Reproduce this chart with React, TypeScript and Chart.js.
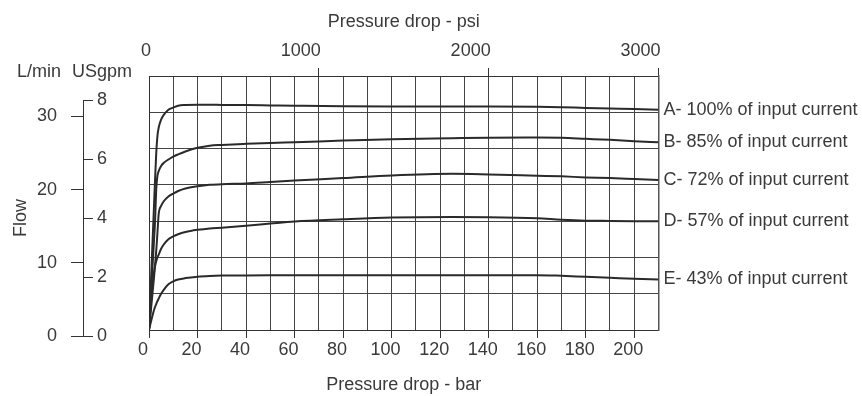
import React, { useEffect, useRef } from "react";
import { Chart, registerables } from "chart.js";

Chart.register(...registerables);

// ---- data ----
const pressureBar = [0, 1, 2, 2.5, 3, 3.5, 4, 5, 6, 8, 10, 12, 15, 20, 25, 30, 40, 50, 60, 80, 100, 125, 140, 160, 170, 180, 190, 200, 210];
const flowA = [0, 8.3, 16.6, 20.7, 24.5, 26.8, 27.9, 29.0, 29.6, 30.35, 30.65, 30.9, 31.0, 31.05, 31.05, 31.02, 31.0, 30.95, 30.9, 30.82, 30.8, 30.8, 30.8, 30.76, 30.7, 30.6, 30.52, 30.45, 30.35];
const flowB = [0, 6, 12, 15, 19.5, 21.3, 21.9, 22.6, 23.0, 23.5, 23.9, 24.2, 24.6, 25.1, 25.4, 25.5, 25.65, 25.78, 25.88, 26.1, 26.3, 26.43, 26.5, 26.52, 26.48, 26.34, 26.2, 26.0, 25.86];
const flowC = [0, 3.5, 7, 9, 11, 13.5, 16.0, 17.1, 17.7, 18.4, 18.8, 19.15, 19.5, 19.8, 20.0, 20.1, 20.2, 20.4, 20.6, 20.93, 21.3, 21.53, 21.44, 21.26, 21.17, 21.03, 20.94, 20.8, 20.66];
const flowD = [0, 4.6, 7.8, 8.8, 9.5, 10.0, 10.4, 11.2, 11.75, 12.5, 12.9, 13.2, 13.5, 13.8, 14.0, 14.1, 14.35, 14.66, 14.95, 15.25, 15.49, 15.57, 15.55, 15.4, 15.2, 15.07, 15.03, 15.0, 14.98];
const flowE = [0, 1.4, 2.7, 3.2, 3.6, 4.0, 4.35, 5.0, 5.5, 6.3, 6.7, 6.95, 7.15, 7.35, 7.45, 7.5, 7.52, 7.53, 7.54, 7.55, 7.55, 7.56, 7.56, 7.56, 7.47, 7.33, 7.2, 7.06, 6.97];
const curveFlows = [flowA, flowB, flowC, flowD, flowE];
const curveLabels = [
  "A- 100% of input current",
  "B- 85% of input current",
  "C- 72% of input current",
  "D- 57% of input current",
  "E- 43% of input current",
];

const barGrid = [0, 10, 20, 30, 40, 50, 60, 70, 80, 90, 100, 110, 120, 130, 140, 150, 160, 170, 180, 190, 200, 210];
const barTickLabels = [0, 20, 40, 60, 80, 100, 120, 140, 160, 180, 200];
const psiTicks = [0, 1000, 2000, 3000];
const flowGrid = [0, 5, 10, 15, 20, 25, 30, 35];
const lpmTicks = [0, 10, 20, 30];
const gpmTicks = [0, 2, 4, 6, 8];

// ---- styles ----
const FONT = { family: '"Liberation Sans", Arial, Helvetica, sans-serif', size: 18 };
const FONT_CSS = '18px "Liberation Sans", Arial, Helvetica, sans-serif';
const TEXT = "#3a3a3a";
const GRID = "#444444";
const BORDER = "#333333";
const LINE = "#2a2a2a";
const CLEAR = "rgba(0,0,0,0)";

const setTicks = (arr: number[]) => (scale: any) => {
  scale.ticks = arr.map((v) => ({ value: v }));
};
const plain = (v: any) => String(v);

export default function App() {
  const mainRef = useRef<HTMLCanvasElement | null>(null);
  const axisRef = useRef<HTMLCanvasElement | null>(null);

  useEffect(() => {
    document.body.style.margin = "0";
    const labelPlugin = {
      id: "curveLabels",
      afterDatasetsDraw(chart: any) {
        const { ctx, chartArea, scales } = chart;
        ctx.save();
        ctx.font = FONT_CSS;
        ctx.fillStyle = TEXT;
        ctx.textAlign = "left";
        ctx.textBaseline = "middle";
        chart.data.datasets.forEach((ds: any, i: number) => {
          const last = ds.data[ds.data.length - 1];
          const y = scales.y.getPixelForValue(last.y);
          ctx.fillText(curveLabels[i], chartArea.right + 5, y);
        });
        ctx.restore();
      },
    };

    const main = new Chart(mainRef.current as HTMLCanvasElement, {
      type: "line",
      data: {
        datasets: curveFlows.map((flows, i) => ({
          label: curveLabels[i],
          data: pressureBar.map((x, j) => ({ x, y: flows[j] })),
          borderColor: LINE,
          borderWidth: 2,
          pointRadius: 0,
          fill: false,
          cubicInterpolationMode: "monotone" as const,
        })),
      },
      options: {
        responsive: false,
        animation: false,
        layout: { padding: { left: 149, right: 203.5, top: 0, bottom: 0 } },
        plugins: { legend: { display: false }, tooltip: { enabled: false } },
        scales: {
          x: {
            type: "linear",
            position: "bottom",
            min: 0,
            max: 210,
            afterBuildTicks: setTicks(barGrid),
            ticks: {
              autoSkip: false,
              maxRotation: 0,
              labelOffset: -6,
              padding: 1,
              font: FONT,
              color: TEXT,
              callback: (v: any) => (barTickLabels.includes(Number(v)) ? String(v) : ""),
            },
            grid: {
              color: GRID,
              lineWidth: 1,
              drawTicks: true,
              tickLength: 8,
              tickColor: (c: any) => (c.tick && barTickLabels.includes(c.tick.value) ? BORDER : CLEAR),
            },
            border: { display: true, color: BORDER, width: 1 },
            title: { display: true, text: "Pressure drop - bar", font: FONT, color: TEXT, padding: { top: 0, bottom: 0 } },
            afterFit: (s: any) => {
              s.height = 66;
            },
          },
          x2: {
            type: "linear",
            position: "top",
            min: 0,
            max: 3000,
            afterBuildTicks: setTicks(psiTicks),
            ticks: { autoSkip: false, maxRotation: 0, align: "end", labelOffset: 2, padding: 6, font: FONT, color: TEXT, callback: plain },
            grid: {
              drawOnChartArea: false,
              drawTicks: true,
              tickLength: 8,
              tickColor: (c: any) => (c.tick && c.tick.value === 0 ? CLEAR : BORDER),
            },
            border: { display: true, color: BORDER, width: 1 },
            title: { display: true, text: "Pressure drop - psi", font: FONT, color: TEXT, padding: { top: 11, bottom: 0 } },
            afterFit: (s: any) => {
              s.height = 76;
            },
          },
          y: {
            type: "linear",
            position: "left",
            min: 0,
            max: 35,
            afterBuildTicks: setTicks(flowGrid),
            ticks: { display: false },
            grid: { color: GRID, lineWidth: 1, drawTicks: false },
            border: { display: true, color: BORDER, width: 1 },
          },
          y2: {
            type: "linear",
            position: "right",
            min: 0,
            max: 35,
            ticks: { display: false },
            grid: { display: false, drawTicks: false },
            border: { display: true, color: "#555555", width: 1.5 },
          },
        },
      } as any,
      plugins: [labelPlugin],
    });

    const headerPlugin = {
      id: "unitHeaders",
      afterDraw(chart: any) {
        const { ctx, chartArea } = chart;
        ctx.save();
        ctx.font = FONT_CSS;
        ctx.fillStyle = TEXT;
        ctx.textAlign = "center";
        ctx.textBaseline = "middle";
        ctx.fillText("L/min", chartArea.left - 44, chartArea.top - 28);
        ctx.fillText("USgpm", chartArea.left + 19, chartArea.top - 28);
        ctx.restore();
      },
    };

    const axes = new Chart(axisRef.current as HTMLCanvasElement, {
      type: "line",
      data: { datasets: [] },
      options: {
        responsive: false,
        animation: false,
        layout: { padding: { left: 0, right: 0, top: 100, bottom: 60 } },
        plugins: { legend: { display: false }, tooltip: { enabled: false } },
        scales: {
          x: { type: "linear", display: false, min: 0, max: 1 },
          yL: {
            type: "linear",
            position: "left",
            min: 0,
            max: 32.23,
            afterBuildTicks: setTicks(lpmTicks),
            ticks: { padding: 14, font: FONT, color: TEXT, callback: plain },
            grid: { drawOnChartArea: false, drawTicks: true, tickLength: 12, color: BORDER },
            border: { display: true, color: BORDER, width: 1 },
            title: { display: true, text: "Flow", font: FONT, color: TEXT, padding: { top: 10, bottom: 0 } },
            afterFit: (s: any) => {
              s.width = 83;
            },
          },
          yG: {
            type: "linear",
            position: "right",
            min: 0,
            max: 8,
            afterBuildTicks: setTicks(gpmTicks),
            ticks: { padding: 4, font: FONT, color: TEXT, callback: plain },
            grid: { drawOnChartArea: false, drawTicks: true, tickLength: 10, color: BORDER },
            border: { display: true, color: BORDER, width: 1 },
            afterFit: (s: any) => {
              s.width = 65;
            },
          },
        },
      } as any,
      plugins: [headerPlugin],
    });

    return () => {
      main.destroy();
      axes.destroy();
    };
  }, []);

  return (
    <div style={{ position: "relative", width: 862, height: 396, background: "#ffffff" }}>
      <canvas ref={mainRef} width={862} height={396} style={{ position: "absolute", left: 0, top: 0 }} />
      <canvas ref={axisRef} width={148} height={396} style={{ position: "absolute", left: 0, top: 0 }} />
    </div>
  );
}
